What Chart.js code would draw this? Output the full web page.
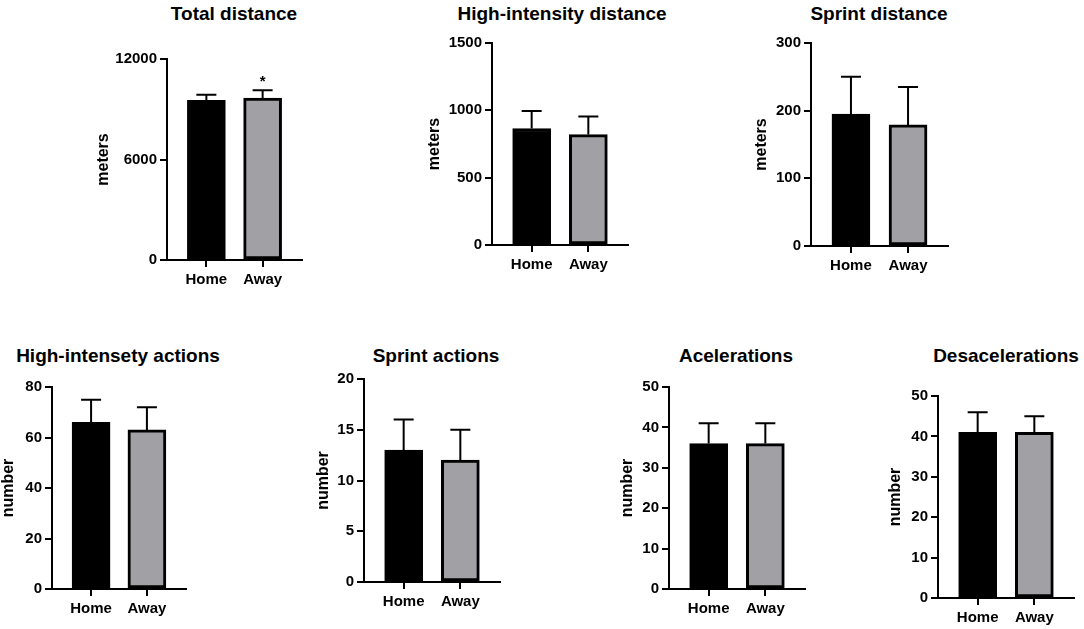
<!DOCTYPE html>
<html>
<head>
<meta charset="utf-8">
<script src="https://cdn.jsdelivr.net/npm/chart.js@4.4.1/dist/chart.umd.min.js"></script>
<style>
  body { margin: 0; background: #fff; width: 1084px; height: 629px; overflow: hidden; position: relative; }
  canvas { position: absolute; }
  .ttl { position: absolute; transform: translate(-50%, -50%); font: bold 19px "Liberation Sans", Arial, sans-serif; color: #000; white-space: nowrap; line-height: 1; }
</style>
</head>
<body>
<script>
// --- data (mean and SD, Home vs Away)
var categories = ['Home', 'Away'];
var titles = ['Total distance', 'High-intensity distance', 'Sprint distance',
    'High-intensety actions', 'Sprint actions', 'Acelerations', 'Desacelerations'];
var axisTitles = ['meters', 'meters', 'meters', 'number', 'number', 'number', 'number'];
var means = [[9530, 9670], [865, 820], [195, 179], [66, 63], [13, 12], [36, 36], [41, 41]];
var sds = [[340, 460], [130, 135], [55, 56], [9, 9], [3, 3], [5, 5], [5, 4]];
var marks = [['', '*'], ['', ''], ['', ''], ['', ''], ['', ''], ['', ''], ['', '']];
var yMax = [12000, 1500, 300, 80, 20, 50, 50];
var yStep = [6000, 500, 100, 20, 5, 10, 10];

// --- where each panel sits on the page
// axisX, topY, zeroY, rightX, titleX, titleY, axisTitleX
var layout = [
    [167, 59, 260, 302, 234, 13, 104],
    [492, 43, 245, 628, 562, 13, 435],
    [811, 43, 246, 948, 879, 13, 762],
    [52, 387, 589, 186, 118, 355, 9],
    [364, 379, 582, 500, 436, 355, 324],
    [669, 387, 589, 805, 736, 355, 628],
    [938, 396, 598, 1074, 1006, 355, 896]
];

Chart.defaults.font.family = '"Liberation Sans", Arial, sans-serif';
Chart.defaults.color = '#000';

// error bars (upwards only) + significance mark
var errorBars = {
    id: 'errorBars',
    afterDatasetsDraw: function (chart) {
        var i = chart.options.plugins.errorBars.panel;
        var ctx = chart.ctx;
        var y = chart.scales.y;
        var meta = chart.getDatasetMeta(0);
        ctx.save();
        ctx.strokeStyle = '#000';
        ctx.lineWidth = 2;
        meta.data.forEach(function (bar, j) {
            var top = y.getPixelForValue(means[i][j] + sds[i][j]);
            ctx.beginPath();
            ctx.moveTo(bar.x, bar.y);
            ctx.lineTo(bar.x, top);
            ctx.moveTo(bar.x - 10, top);
            ctx.lineTo(bar.x + 10, top);
            ctx.stroke();
            if (marks[i][j]) {
                ctx.fillStyle = '#000';
                ctx.font = 'bold 15px "Liberation Sans", Arial, sans-serif';
                ctx.textAlign = 'center';
                ctx.textBaseline = 'bottom';
                ctx.fillText(marks[i][j], bar.x, top - 1);
            }
        });
        ctx.restore();
    }
};

function makePanel(i) {
    var L = layout[i];
    var axisX = L[0], topY = L[1], zeroY = L[2], rightX = L[3];
    var padTop = 12, padRight = 8, xH = 40;
    var left = Math.round(L[6] - 14);
    var yW = axisX - left;

    var t = document.createElement('div');
    t.className = 'ttl';
    t.textContent = titles[i];
    t.style.left = L[4] + 'px';
    t.style.top = L[5] + 'px';
    document.body.appendChild(t);

    var cv = document.createElement('canvas');
    cv.width = rightX - left + padRight;
    cv.height = padTop + (zeroY - topY) + xH;
    cv.style.left = left + 'px';
    cv.style.top = (topY - padTop) + 'px';
    document.body.appendChild(cv);

    new Chart(cv, {
        type: 'bar',
        data: {
            datasets: [{
                data: categories.map(function (c, j) { return { x: j, y: means[i][j] }; }),
                backgroundColor: ['#000000', '#a1a1a5'],
                borderColor: '#000',
                borderWidth: 3,
                borderSkipped: false,
                barThickness: 38
            }]
        },
        options: {
            responsive: false,
            animation: false,
            layout: { padding: { top: padTop, right: padRight, bottom: 0, left: 0 } },
            plugins: {
                legend: { display: false },
                tooltip: { enabled: false },
                errorBars: { panel: i }
            },
            scales: {
                x: {
                    type: 'linear',
                    offset: false,
                    min: -0.7,
                    max: 1.7,
                    afterBuildTicks: function (s) { s.ticks = [{ value: 0 }, { value: 1 }]; },
                    afterFit: function (s) { s.height = xH; },
                    ticks: {
                        callback: function (v) { return categories[v]; },
                        font: { size: 15, weight: 'bold' },
                        color: '#000',
                        padding: 4,
                        maxRotation: 0
                    },
                    grid: { offset: false, drawOnChartArea: false, drawTicks: true, tickLength: 7, color: '#000', lineWidth: 2 },
                    border: { display: true, color: '#000', width: 2 }
                },
                y: {
                    min: 0,
                    max: yMax[i],
                    afterFit: function (s) { s.width = yW; },
                    ticks: {
                        stepSize: yStep[i],
                        callback: function (v) { return String(v); },
                        font: { size: 15, weight: 'bold' },
                        color: '#000',
                        padding: 3
                    },
                    grid: { drawOnChartArea: false, drawTicks: true, tickLength: 7, color: '#000', lineWidth: 2 },
                    border: { display: true, color: '#000', width: 2 },
                    title: {
                        display: true,
                        text: axisTitles[i],
                        font: { size: 16, weight: 'bold' },
                        color: '#000',
                        padding: { top: 4, bottom: 4 }
                    }
                }
            }
        },
        plugins: [errorBars]
    });
}

for (var i = 0; i < titles.length; i++) makePanel(i);
</script>
</body>
</html>
